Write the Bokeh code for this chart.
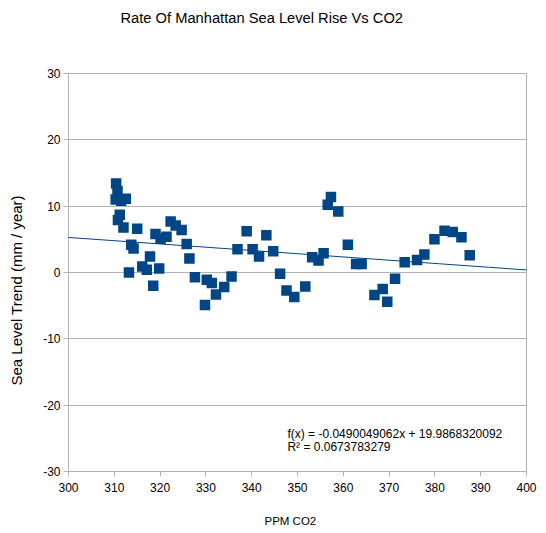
from bokeh.plotting import figure
from bokeh.models import (Slope, Label, SingleIntervalTicker, Title,
                          LinearAxis, FixedTicker, PrintfTickFormatter)
from bokeh.embed import file_html
from bokeh.resources import INLINE

# Data
ppm_co2 = [310.4, 310.7, 310.3, 311.5, 312.5, 311.2, 310.8, 312.0, 313.2, 313.7,
           314.2, 315.0, 316.1, 317.1, 317.8, 318.5, 319.0, 319.8, 320.1, 321.4,
           322.3, 323.4, 324.7, 325.8, 326.4, 327.6, 329.8, 330.2, 331.3, 332.2,
           334.0, 335.6, 336.9, 338.9, 340.2, 341.6, 343.2, 344.7, 346.2, 347.6,
           349.3, 351.7, 353.2, 354.6, 355.7, 356.6, 357.3, 358.9, 361.0, 362.8,
           364.0, 366.8, 368.6, 369.6, 371.3, 373.4, 376.1, 377.7, 379.9, 382.1,
           383.9, 385.8, 387.6]
sea_level_trend = [13.4, 12.3, 11.0, 10.8, 11.1, 8.7, 7.9, 6.8, 0.0, 4.2,
                   3.6, 6.6, 0.9, 0.4, 2.4, -2.0, 5.8, 0.6, 5.1, 5.4,
                   7.7, 7.1, 6.4, 4.3, 2.1, -0.7, -4.9, -1.1, -1.6, -3.3,
                   -2.2, -0.6, 3.5, 6.2, 3.5, 2.4, 5.6, 3.2, -0.2, -2.7,
                   -3.7, -2.1, 2.3, 1.8, 2.9, 10.2, 11.4, 9.2, 4.2, 1.3,
                   1.3, -3.4, -2.5, -4.4, -0.95, 1.55, 1.9, 2.7, 5.0, 6.3,
                   6.1, 5.3, 2.6]

trend_slope = -0.0490049062
trend_intercept = 19.9868320092
trend_r2 = 0.0673783279

title_text = "Rate Of Manhattan Sea Level Rise Vs CO2"
x_label = "PPM CO2"
y_label = "Sea Level Trend (mm / year)"

FONT = "Liberation Sans"
GREY = "#b3b3b3"
BLUE = "#004586"

p = figure(width=546, height=533, x_range=(300, 400), y_range=(-30, 30),
           output_backend="svg", toolbar_location=None,
           min_border_left=68, min_border_right=20,
           min_border_top=73, min_border_bottom=62)

p.background_fill_color = "white"
p.border_fill_color = "white"
p.outline_line_color = GREY
p.outline_line_width = 1

p.xgrid.grid_line_color = None
p.ygrid.grid_line_color = GREY
p.ygrid.grid_line_width = 1

p.xaxis.ticker = SingleIntervalTicker(interval=10)
p.yaxis.ticker = SingleIntervalTicker(interval=10)
p.xaxis.formatter = PrintfTickFormatter(format="%d")
p.yaxis.formatter = PrintfTickFormatter(format="%d")

for ax in (p.xaxis, p.yaxis):
    ax.axis_line_color = GREY
    ax.major_tick_line_color = GREY
    ax.minor_tick_line_color = None
    ax.major_tick_in = 0
    ax.major_tick_out = 5
    ax.major_label_text_font = FONT
    ax.major_label_text_font_size = "12px"
    ax.major_label_text_color = "#000000"

p.xaxis.major_label_standoff = 6
p.yaxis.major_label_standoff = 3


def spacer(gap, at):
    # an invisible axis used only to leave a gap between an axis and its title
    return LinearAxis(ticker=FixedTicker(ticks=[at]), major_tick_out=gap,
                      major_tick_in=0, minor_tick_in=0, minor_tick_out=0,
                      major_label_standoff=0, axis_line_color=None,
                      major_tick_line_color=None, minor_tick_line_color=None,
                      major_label_overrides={at: ""},
                      major_label_text_font_size="1px")


def heading(text, size, offset):
    return Title(text=text, align="left", offset=offset, standoff=0,
                 vertical_align="middle", text_font=FONT,
                 text_font_size=size, text_font_style="normal",
                 text_color="#000000")


# main title (above), y-axis title (left), x-axis title (below)
p.add_layout(spacer(47, 350), "above")
p.add_layout(heading(title_text, "14.7px", 52), "above")
p.add_layout(spacer(15, 0), "left")
p.add_layout(heading(y_label, "15px", 86), "left")
p.add_layout(spacer(19, 350), "below")
p.add_layout(heading(x_label, "11.5px", 196), "below")

p.scatter(ppm_co2, sea_level_trend, marker="square", size=10.5,
          fill_color=BLUE, line_color=None)

p.add_layout(Slope(gradient=trend_slope, y_intercept=trend_intercept,
                   line_color=BLUE, line_width=1))

eq1 = f"f(x) = {trend_slope:.10f}x + {trend_intercept:.10f}"
eq2 = f"R\u00b2 = {trend_r2:.10f}"
p.add_layout(Label(x=347.8, y=-24.3, text=eq1, text_font=FONT,
                   text_font_size="12px", text_baseline="middle",
                   text_color="#000000"))
p.add_layout(Label(x=347.8, y=-26.3, text=eq2, text_font=FONT,
                   text_font_size="12px", text_baseline="middle",
                   text_color="#000000"))

open("out.html", "w").write(file_html(p, INLINE))
